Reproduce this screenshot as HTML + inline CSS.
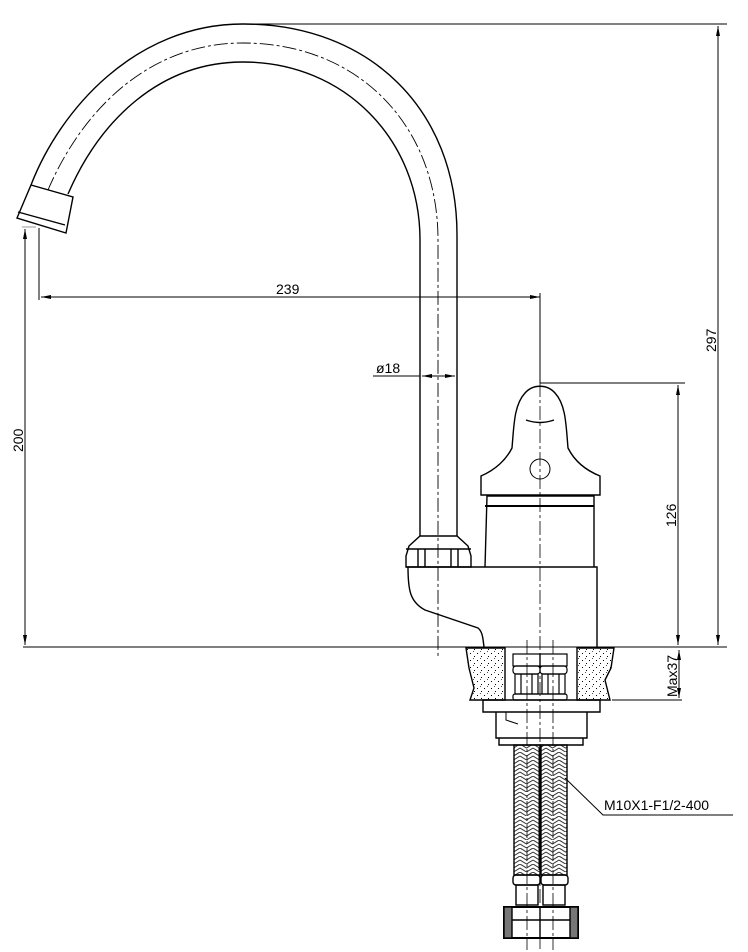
<!DOCTYPE html>
<html><head><meta charset="utf-8"><style>
html,body{margin:0;padding:0;background:#fff}
svg{display:block}
text{font-family:"Liberation Sans",sans-serif;font-size:14px;fill:#000}
</style></head><body>
<svg width="748" height="952" viewBox="0 0 748 952" xmlns="http://www.w3.org/2000/svg">
<defs>
<pattern id="dots" width="7" height="7" patternUnits="userSpaceOnUse">
<rect x="1" y="2" width="1" height="1" fill="#000"/><rect x="5" y="5" width="1" height="1" fill="#000"/><rect x="4" y="0" width="1" height="1" fill="#555"/>
</pattern>
<pattern id="braid" width="13" height="8" patternUnits="userSpaceOnUse">
<path d="M0 0 L6.5 4 L13 0 M0 4 L6.5 8 L13 4" fill="none" stroke="#333" stroke-width="1"/>
</pattern>
<marker id="ar" markerWidth="10" markerHeight="6" refX="10" refY="3" orient="auto-start-reverse" markerUnits="userSpaceOnUse"><path d="M0 1 L10 3 L0 5 Z" fill="#000"/></marker>
</defs>
<g fill="none" stroke="#000" stroke-width="1.4">
<!-- spout -->
<path d="M31 185 C60 110 135 24 243 24 C370 24 457 110 457 235 L457 536"/>
<path d="M68 194 C100 120 160 62 243 62 C345 62 420 140 420 240 L420 536"/>
<path d="M48 190 C80 115 145 43 243 43 C358 43 438 125 438 240 L438 656" stroke-width="0.9" stroke-dasharray="14 3 3 3"/>
<path d="M31 185 L73 197 L66 233 L17 218 Z"/>
<path d="M18 212 L65 225"/>
<!-- nut -->
<path d="M420 536 L457 536 L468 546 L471 556 L471 567 L406 567 L406 556 L409 546 Z"/>
<path d="M406 549 L471 549 M418 549 L418 567 M425 549 L425 567 M451 549 L451 567 M458 549 L458 567"/>
<!-- body -->
<path d="M406 567 L597 567 L597 647 M408 567 C408 590 410 602 425 610 L478 628 C483 632 483 640 484 647"/>
<path d="M485 567 L487 496 L594 496 L594 567"/>
<path d="M485 506 L594 506" stroke-width="2"/>
<path d="M481 495 L481 476 C495 470 506 460 512 448 C514 425 514 405 525 393 C533 384 547 384 555 393 C566 405 566 425 568 448 C574 460 585 470 600 476 L600 495 Z"/>
<path d="M526 420 Q540 425 554 420"/>
<circle cx="540" cy="469" r="10" stroke-width="1"/>
<!-- countertop -->
<path d="M466 648 L505 648 L505 700 L470 700 L474 688 L469 668 Z" fill="url(#dots)"/>
<path d="M577 648 L614 648 L611 668 L605 680 L610 700 L577 700 Z" fill="url(#dots)"/>
<!-- fittings top -->
<g stroke-width="1.2">
<rect x="513" y="654" width="27" height="12"/><rect x="540" y="654" width="27" height="12"/>
<rect x="513" y="666" width="27" height="8" rx="3"/><rect x="540" y="666" width="27" height="8" rx="3"/>
<rect x="515" y="674" width="23" height="20"/><rect x="542" y="674" width="23" height="20"/>
<path d="M521 674 L521 694 M532 674 L532 694 M548 674 L548 694 M559 674 L559 694"/>
<rect x="513" y="694" width="54" height="6" rx="2"/>
</g>
<path d="M483 700 L600 700 L600 712 L483 712 Z M496 712 L587 712 L587 738 L496 738 Z M499 738 L583 738 L583 745 L499 745 Z"/>
<path d="M506 712 L506 720 L518 724" stroke-width="1"/>
<!-- hoses -->
<rect x="514" y="745" width="26" height="130" fill="url(#braid)"/>
<rect x="541" y="745" width="26" height="130" fill="url(#braid)"/>
<path d="M540 748 L540 870" stroke-width="3"/>
<rect x="513" y="875" width="27" height="10" rx="3"/><rect x="541" y="875" width="27" height="10" rx="3"/>
<rect x="516" y="885" width="22" height="20"/><rect x="543" y="885" width="22" height="20"/>
<path d="M504 907 L578 907 L578 938 L504 938 Z" stroke-width="2"/>
<rect x="504" y="907" width="8" height="31" fill="#777"/><rect x="570" y="907" width="8" height="31" fill="#777"/>
<path d="M512 920 L570 920 M540 907 L540 938"/>
<!-- centre lines -->
<path d="M540 383 L540 950" stroke-width="0.8" stroke-dasharray="14 3 3 3"/>
<path d="M527 640 L527 950 M553 640 L553 950" stroke-width="0.8" stroke-dasharray="14 3 3 3"/>
</g>
<!-- dimensions -->
<g fill="none" stroke="#000" stroke-width="1">
<path d="M243 24 L727 24"/>
<path d="M23 647 L727 647"/>
<path d="M718 26 L718 645" marker-start="url(#ar)" marker-end="url(#ar)"/>
<path d="M25 229 L25 645" marker-start="url(#ar)" marker-end="url(#ar)"/>
<path d="M22 227 L36 227" stroke="#999"/>
<path d="M39 228 L39 300"/>
<path d="M41 297 L540 297" marker-start="url(#ar)" marker-end="url(#ar)"/>
<path d="M540 293 L540 383"/>
<path d="M373 376 L420 376"/>
<path d="M422 376 L455 376" marker-start="url(#ar)" marker-end="url(#ar)"/>
<path d="M540 383 L685 383"/>
<path d="M678 385 L678 645" marker-start="url(#ar)" marker-end="url(#ar)"/>
<path d="M612 700 L682 700"/>
<path d="M679 650 L679 698" marker-start="url(#ar)" marker-end="url(#ar)"/>
<path d="M565 778 L603 815 L733 815"/>
</g>
<text x="276" y="294">239</text>
<text x="376" y="373" font-size="13">ø18</text>
<text transform="translate(23,452) rotate(-90)">200</text>
<text transform="translate(716,352) rotate(-90)">297</text>
<text transform="translate(676,527) rotate(-90)">126</text>
<text transform="translate(677,697) rotate(-90)">Max37</text>
<text x="604" y="810">M10X1-F1/2-400</text>
</svg>
</body></html>
